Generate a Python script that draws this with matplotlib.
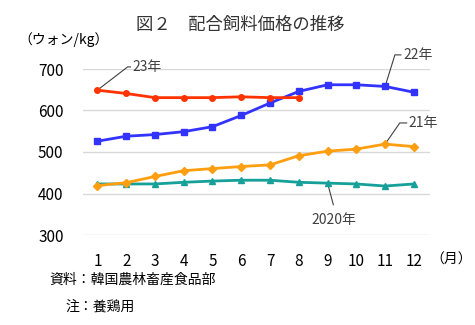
import matplotlib
matplotlib.use("Agg")
from matplotlib import pyplot as plt

plt.rcParams['font.family'] = ['Noto Sans CJK JP', 'DejaVu Sans']

months = list(range(1, 13))
y2023 = [649, 641, 631, 631, 631, 633, 631, 631]
y2022 = [526, 538, 542, 549, 561, 588, 618, 646, 662, 662, 658, 644]
y2021 = [419, 426, 441, 455, 460, 465, 469, 491, 502, 507, 519, 513]
y2020 = [423, 423, 423, 427, 430, 432, 432, 427, 425, 423, 418, 423]
yticks = [300, 400, 500, 600, 700]

fig = plt.figure(figsize=(4.75, 3.25), dpi=100)
# axes box in pixels: x 83..430, y 69..235 (from top)
ax = fig.add_axes([83 / 475, 1 - 235 / 325, 347 / 475, 166 / 325])

ax.plot(months, y2020, color='#16a09a', lw=2, marker='^', ms=5, zorder=3)
ax.plot(months, y2021, color='#ff9e0f', lw=2, marker='D', ms=4, zorder=3)
ax.plot(months, y2022, color='#3333ff', lw=2, marker='s', ms=5, zorder=4)
ax.plot(months[:len(y2023)], y2023, color='#ff3300', lw=2, marker='o', ms=4, zorder=5)

ax.set_xlim(0.5, 12.56)
ax.set_ylim(300, 700)
ax.set_yticks(yticks)
ax.set_xticks(months)
ax.grid(axis='y', color='#d9d9d9', lw=1)
ax.set_axisbelow(True)
for s in ax.spines.values():
    s.set_visible(False)
ax.tick_params(length=0, labelsize=11, colors='black')
ax.tick_params(axis='x', pad=13)
ax.tick_params(axis='y', pad=14)

lc = '#404040'
ax.plot([1, 2.05, 2.15], [649, 705, 705], color=lc, lw=0.8, clip_on=False)
ax.text(2.22, 705, '23年', fontsize=10, color=lc, va='center', ha='left')
ax.plot([11, 11.34, 11.55], [658, 734, 734], color=lc, lw=0.8, clip_on=False)
ax.text(11.62, 734, '22年', fontsize=10, color=lc, va='center', ha='left')
ax.plot([11, 11.51, 11.75], [519, 570, 570], color=lc, lw=0.8, clip_on=False)
ax.text(11.82, 570, '21年', fontsize=10, color=lc, va='center', ha='left')
ax.plot([9, 9.2], [425, 373], color=lc, lw=0.8, clip_on=False)
ax.text(9.22, 335, '2020年', fontsize=10, color=lc, va='center', ha='center')

fig.text(240 / 475, 1 - 25 / 325, '図２　配合飼料価格の推移', fontsize=12.5,
         ha='center', va='center', color='#333333')
fig.text(18 / 475, 1 - 40 / 325, '（ウォン/kg）', fontsize=10, ha='left', va='center')
fig.text(430 / 475, 1 - 260 / 325, '（月）', fontsize=10, ha='left', va='center')
fig.text(49 / 475, 1 - 280 / 325, '資料：韓国農林畜産食品部', fontsize=10, ha='left', va='center')
fig.text(65 / 475, 1 - 307 / 325, '注：養鶏用', fontsize=10, ha='left', va='center')

fig.savefig('out.png', dpi=100)
